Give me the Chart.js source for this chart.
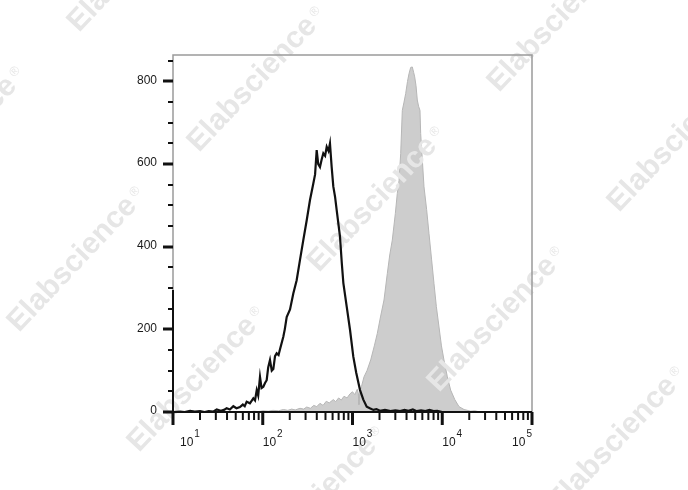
<!DOCTYPE html>
<html>
<head>
<meta charset="utf-8">
<script src="https://cdn.jsdelivr.net/npm/chart.js@4.4.0/dist/chart.umd.min.js"></script>
<style>
  html, body { margin: 0; padding: 0; background: #fff; }
  canvas { display: block; }
</style>
</head>
<body>
<canvas id="histChart" width="688" height="490"></canvas>
<script>
// Control histogram (black line): fluorescence intensity / count
const controlX = [10, 12, 13.5, 15.5, 17.5, 20, 22.5, 25, 28, 30.7, 34, 37, 39.6, 43, 47, 51, 55.7, 60, 63, 66.2,
    72, 78.5, 82, 85.7, 89, 93.2, 97, 101.5, 106, 110.6, 115, 120.4, 126, 131.2, 137, 143, 150, 155.7, 169.5, 176,
    184.8, 201.3, 219, 238.7, 260, 283, 309, 336, 366, 383, 399, 415, 434, 452, 473, 495, 516, 540, 561, 586,
    611, 640, 666, 726, 760, 791, 862, 938, 1021, 1100, 1213, 1320, 1440, 1560, 1707, 1850, 2024, 2300, 2650, 3000,
    3400, 3800, 4200, 4700, 5200, 5800, 6500, 7200, 8000, 8800, 10000, 100000];
const controlY = [0, 1, 0, 3, 1, 2, 0, 2, 1, 6, 3, 5, 9, 6, 14, 9, 12, 18, 14, 25,
    21, 33, 28, 53, 40, 85, 58, 61, 70, 77, 108, 126, 100, 104, 135, 142, 138, 152, 182, 200,
    230, 248, 287, 319, 368, 416, 464, 513, 553, 575, 634, 600, 593, 610, 626, 620, 642, 632, 650, 593,
    546, 520, 489, 424, 360, 312, 255, 199, 134, 95, 53, 30, 13, 9, 5, 7, 3, 5, 2, 4,
    2, 5, 3, 6, 2, 4, 2, 5, 2, 3, 0, 0];

// Stained histogram (grey fill)
const stainedX = [10, 50, 60, 70, 80, 90, 100, 115, 130, 150, 170, 190, 210, 230, 260, 285, 309, 340, 370, 400,
    434, 470, 510, 550, 611, 650, 700, 750, 804, 870, 938, 1000, 1060, 1130, 1160, 1180, 1210, 1260, 1343, 1450,
    1595, 1750, 1889, 2050, 2243, 2442, 2600, 2775, 3000, 3155, 3300, 3443, 3589, 3750, 3914, 4100, 4264, 4450, 4639, 4800,
    4932, 5100, 5272, 5450, 5649, 5750, 6000, 6262, 6700, 7117, 7600, 8090, 8600, 9200, 9800, 10450, 11400, 12410, 13800, 15370,
    17500, 20770, 23000, 26360, 100000];
const stainedY = [0, 0, 1, 0, 2, 1, 3, 2, 4, 3, 6, 4, 7, 5, 9, 7, 12, 9, 16, 13,
    21, 16, 26, 22, 30, 25, 34, 29, 38, 34, 44, 49, 42, 55, 45, 18, 48, 62, 85, 100,
    126, 160, 190, 230, 271, 335, 380, 416, 480, 529, 560, 626, 730, 750, 771, 800, 819, 834, 835, 822,
    811, 790, 755, 740, 730, 674, 610, 545, 490, 432, 370, 311, 255, 206, 160, 126, 85, 53, 30, 13,
    6, 2, 3, 0, 0];

const xDecades = [10, 100, 1000, 10000, 100000];
const xExponents = ['1', '2', '3', '4', '5'];
const yLabels = [0, 200, 400, 600, 800];
const yMinorStep = 50;
const yMax = 864;

const FONT = '"Liberation Sans", Arial, sans-serif';

function toPoints(xs, ys) {
    return xs.map((x, i) => ({ x: x, y: ys[i] }));
}

// Diagonal "Elabscience" watermark, drawn between the grey fill and the black line
const watermark = {
    id: 'watermark',
    afterDatasetDraw(chart, args) {
        if (args.index !== 1) return;
        const ctx = chart.ctx;
        ctx.save();
        ctx.fillStyle = '#e6e6e6';
        for (let i = -2; i <= 4; i++) {
            for (let j = -2; j <= 2; j++) {
                const x = 199 + i * 120 + j * 180;
                const y = 153 + i * 120 - j * 180;
                if (y > 600) continue;
                ctx.save();
                ctx.translate(x, y);
                ctx.rotate(-46.7 * Math.PI / 180);
                ctx.font = 'bold 30px ' + FONT;
                ctx.textBaseline = 'alphabetic';
                ctx.fillText('Elabscience', 0, 0);
                const w = ctx.measureText('Elabscience').width;
                ctx.font = '13px ' + FONT;
                ctx.fillText('®', w + 4, -9);
                ctx.restore();
            }
        }
        ctx.restore();
    }
};

// FlowJo-style frame, ticks and labels
const flowAxes = {
    id: 'flowAxes',
    afterDraw(chart) {
        const ctx = chart.ctx;
        const { left, right, top, bottom } = chart.chartArea;
        const xs = chart.scales.x;
        const ys = chart.scales.y;
        ctx.save();

        // grey frame (top, right, upper part of left)
        ctx.strokeStyle = '#9a9a9a';
        ctx.lineWidth = 1.5;
        ctx.beginPath();
        ctx.moveTo(left, 290);
        ctx.lineTo(left, top);
        ctx.lineTo(right, top);
        ctx.lineTo(right, bottom);
        ctx.stroke();

        // black axis lines
        ctx.strokeStyle = '#111';
        ctx.lineWidth = 2;
        ctx.beginPath();
        ctx.moveTo(left, 290);
        ctx.lineTo(left, bottom);
        ctx.lineTo(right, bottom);
        ctx.stroke();

        // y ticks
        for (let v = 0; v <= yMax; v += yMinorStep) {
            const y = Math.round(ys.getPixelForValue(v));
            const major = yLabels.includes(v);
            ctx.lineWidth = major ? 3 : 2;
            ctx.beginPath();
            ctx.moveTo(left - (major ? 10 : 5), y);
            ctx.lineTo(left, y);
            ctx.stroke();
        }
        ctx.fillStyle = '#1a1a1a';
        ctx.font = '12px ' + FONT;
        ctx.textAlign = 'right';
        ctx.textBaseline = 'middle';
        yLabels.forEach(v => {
            ctx.fillText(String(v), left - 16, ys.getPixelForValue(v) - 1);
        });

        // x ticks
        xDecades.forEach((d, idx) => {
            const kMax = idx === xDecades.length - 1 ? 1 : 9;
            for (let k = 1; k <= kMax; k++) {
                const x = xs.getPixelForValue(k * d);
                const major = k === 1;
                ctx.lineWidth = major ? 3 : 2;
                ctx.beginPath();
                ctx.moveTo(x, bottom);
                ctx.lineTo(x, bottom + (major ? 13 : 8));
                ctx.stroke();
            }
        });

        // x labels: 10 with superscript exponent
        ctx.textAlign = 'left';
        ctx.textBaseline = 'alphabetic';
        xDecades.forEach((d, idx) => {
            const x = xs.getPixelForValue(d);
            ctx.font = '12px ' + FONT;
            const wBase = ctx.measureText('10').width;
            ctx.font = '10px ' + FONT;
            const wExp = ctx.measureText(xExponents[idx]).width;
            let lx = Math.max(x, left + 7);
            if (lx + wBase + 1 + wExp > right) lx = right - wBase - 1 - wExp;
            ctx.font = '12px ' + FONT;
            ctx.fillText('10', lx, 446);
            ctx.font = '10px ' + FONT;
            ctx.fillText(xExponents[idx], lx + wBase + 1, 437);
        });

        ctx.restore();
    }
};

new Chart(document.getElementById('histChart'), {
    type: 'line',
    data: {
        datasets: [
            {
                label: 'Control',
                data: toPoints(controlX, controlY),
                borderColor: '#111',
                borderWidth: 2.2,
                pointRadius: 0,
                fill: false,
                tension: 0
            },
            {
                label: 'Stained',
                data: toPoints(stainedX, stainedY),
                borderColor: '#b6b6b6',
                borderWidth: 1,
                backgroundColor: '#cdcdcd',
                pointRadius: 0,
                fill: 'origin',
                tension: 0
            }
        ]
    },
    options: {
        responsive: false,
        animation: false,
        layout: { padding: { left: 173, right: 156, top: 55, bottom: 78 } },
        plugins: {
            legend: { display: false },
            tooltip: { enabled: false }
        },
        scales: {
            x: { type: 'logarithmic', min: 10, max: 100000, display: false },
            y: { type: 'linear', min: 0, max: yMax, display: false }
        }
    },
    plugins: [watermark, flowAxes]
});
</script>
</body>
</html>
